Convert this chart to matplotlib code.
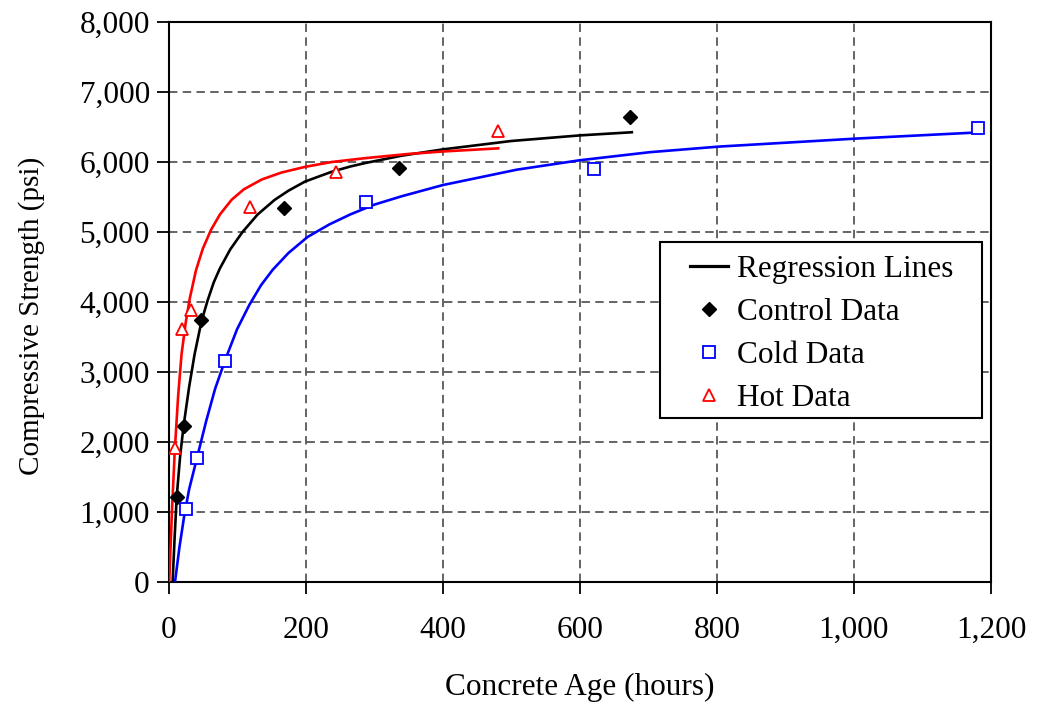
"""Compressive strength vs concrete age, with regression lines per curing condition."""

import matplotlib
matplotlib.use("Agg")
import matplotlib.pyplot as plt
from matplotlib.lines import Line2D
from matplotlib.patches import Rectangle
from matplotlib.ticker import FuncFormatter

# Measured data (hours, psi)
control_hours = [12, 22, 48, 168, 337, 673]
control_psi = [1220, 2230, 3750, 5340, 5920, 6640]
cold_hours = [25, 42, 83, 288, 621, 1181]
cold_psi = [1050, 1775, 3155, 5430, 5895, 6480]
hot_hours = [9, 19, 33, 119, 245, 480]
hot_psi = [1910, 3610, 3890, 5360, 5860, 6440]

# Regression lines
control_fit_hours = [6, 9, 12, 17, 22, 30, 38, 48, 57, 66, 75, 90, 108, 130, 155, 175,
                     199, 238, 265, 287, 340, 400, 500, 600, 676]
control_fit_psi = [0, 650, 1220, 1800, 2230, 2780, 3250, 3720, 4020, 4280, 4480, 4750,
                   5000, 5250, 5460, 5590, 5720, 5860, 5935, 5985, 6090, 6180, 6300,
                   6380, 6425]
cold_fit_hours = [9.5, 16, 23, 30, 42, 55, 68, 83, 100, 118, 135, 152, 175, 203, 235,
                  265, 300, 340, 400, 508, 600, 702, 803, 1004, 1176]
cold_fit_psi = [0, 500, 950, 1320, 1790, 2300, 2760, 3180, 3610, 3960, 4240, 4460, 4700,
                4930, 5110, 5250, 5390, 5510, 5670, 5890, 6025, 6140, 6220, 6335, 6420]
hot_fit_hours = [1, 5, 9, 14, 19, 25, 31, 40, 50, 62, 75, 92, 110, 136, 165, 199, 238,
                 287, 350, 400, 481]
hot_fit_psi = [0, 1000, 1850, 2650, 3250, 3700, 4050, 4450, 4760, 5030, 5250, 5460,
               5610, 5750, 5850, 5930, 6000, 6055, 6115, 6150, 6195]

x_ticks = [0, 200, 400, 600, 800, 1000, 1200]
y_ticks = [0, 1000, 2000, 3000, 4000, 5000, 6000, 7000, 8000]

plt.rcParams["font.family"] = ["Liberation Serif", "DejaVu Serif"]
FS = 22.5

W, H = 1037, 704
fig = plt.figure(figsize=(W / 100, H / 100), dpi=100)
ax = fig.add_axes([168.5 / W, 1 - 582 / H, (991 - 168.5) / W, (582 - 22) / H])

ax.plot(control_fit_hours, control_fit_psi, color="black", lw=1.9, zorder=3)
ax.plot(cold_fit_hours, cold_fit_psi, color="#0000ff", lw=1.9, zorder=3)
ax.plot(hot_fit_hours, hot_fit_psi, color="#ff0000", lw=1.9, zorder=3)

control_style = dict(ls="none", marker="D", ms=7.5, mfc="black", mec="black")
cold_style = dict(ls="none", marker="s", ms=8, mfc="white", mec="#0000ff", mew=1.3)
hot_style = dict(ls="none", marker="^", ms=8.5, mfc="white", mec="#ff0000", mew=1.3)

ax.plot(control_hours, control_psi, zorder=4, **control_style)
ax.plot(cold_hours, cold_psi, zorder=4, **cold_style)
ax.plot(hot_hours, hot_psi, zorder=4, **hot_style)

ax.set_xlim(0, 1200)
ax.set_ylim(0, 8000)
ax.set_xticks(x_ticks)
ax.set_yticks(y_ticks)
comma = FuncFormatter(lambda v, _: f"{int(v):,}")
ax.xaxis.set_major_formatter(comma)
ax.yaxis.set_major_formatter(comma)
ax.tick_params(axis="both", direction="out", length=8.5, width=1.3,
               labelsize=FS, colors="black")
ax.tick_params(axis="x", pad=16)
ax.tick_params(axis="y", pad=5)

ax.set_axisbelow(True)
ax.grid(True, color="#3a3a3a", lw=1.1, ls=(0, (5.5, 3.5)))
for side in ax.spines.values():
    side.set_linewidth(1.5)
    side.set_color("black")

ax.set_xlabel("Concrete Age (hours)", fontsize=FS, va="center")
ax.xaxis.set_label_coords(0.5, -0.189)
ax.set_ylabel("Compressive Strength (psi)", fontsize=21, va="center")
ax.yaxis.set_label_coords(-0.166, 0.475)

# Legend box drawn by hand so the padding matches the original
box = Rectangle((660 / W, 1 - 418 / H), 322 / W, 176 / H, transform=fig.transFigure,
                facecolor="white", edgecolor="black", lw=1.5, zorder=4)
fig.patches.append(box)

handles = [
    Line2D([], [], color="black", lw=2.3),
    Line2D([], [], **control_style),
    Line2D([], [], **cold_style),
    Line2D([], [], **hot_style),
]
labels = ["Regression Lines", "Control Data", "Cold Data", "Hot Data"]
leg = fig.legend(handles, labels, loc="upper left", bbox_to_anchor=(690 / W, 1 - 255 / H),
                 bbox_transform=fig.transFigure, frameon=False, fontsize=FS,
                 borderpad=0, borderaxespad=0, handlelength=1.2, handletextpad=0.3,
                 labelspacing=0.45)
leg.set_zorder(5)

fig.savefig("out.png", dpi=100)
